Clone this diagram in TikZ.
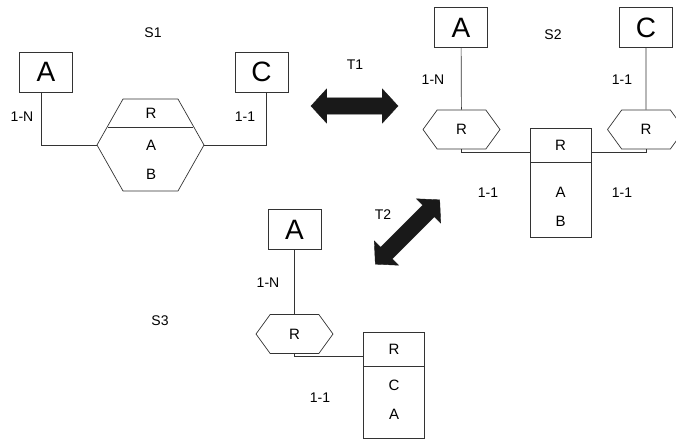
\documentclass[tikz,border=0pt]{standalone}
\usepackage{fontspec}
\setmainfont{Liberation Sans}
\usetikzlibrary{shapes.symbols,shapes.arrows,calc}

\begin{document}
\begin{tikzpicture}[x=1pt, y=-1pt,
    entite/.style={draw=black!80, line width=0.7pt, rectangle, minimum width=53pt, minimum height=40pt, inner sep=0pt, font=\fontsize{28}{28}\selectfont},
    boite/.style={draw=black!80, line width=0.7pt, rectangle, minimum width=61pt, inner sep=0pt, font=\fontsize{15}{15}\selectfont},
    relation/.style={draw=black!80, line width=0.7pt, shape=signal, signal to=east and west, signal pointer angle=108, minimum width=77pt, minimum height=39pt, inner sep=0pt, font=\fontsize{15}{15}\selectfont},
    fleche/.style={fill=black!90, draw=black!90, shape=double arrow, double arrow head extend=9pt, double arrow tip angle=95, inner xsep=0pt, inner ysep=8pt, minimum width=34pt},
    etiq/.style={font=\fontsize{14}{14}\selectfont},
    texte/.style={font=\fontsize{15}{15}\selectfont},
    lien/.style={draw=black!80, line width=0.7pt}]
        \useasboundingbox (0,0) rectangle (676,440);

        % S1
        \node[etiq] (S1) at (153, 33) {S1};
        \node[entite] (A1) at (46, 72) {A};
        \node[entite] (C1) at (261.5, 72) {C};
        \node[draw=black!80, line width=0.7pt, shape=signal, signal to=east and west, signal pointer angle=121, minimum width=107pt, minimum height=92pt, inner sep=0pt] (H1) at (150.5, 145) {};
        \draw[lien] ($(H1.center)+(-42.5,-18)$) to ($(H1.center)+(42.5,-18)$);
        \node[texte] (H1r) at (151, 113) {R};
        \node[texte] (H1a) at (151, 145) {A};
        \node[texte] (H1b) at (151, 174) {B};
        \draw[lien] ([xshift=-5pt]A1.south) |- (H1.west);
        \draw[lien] ([xshift=5pt]C1.south) |- (H1.east);
        \node[etiq] (c11) at (22, 117) {1-N};
        \node[etiq] (c12) at (245, 117) {1-1};

        % T1
        \node[etiq] (T1) at (355, 65) {T1};
        \node[fleche, minimum height=87pt] (F1) at (354.5, 106) {};

        % S2
        \node[etiq] (S2) at (553, 35) {S2};
        \node[entite] (A2) at (461, 27.5) {A};
        \node[entite] (C2) at (646, 27.5) {C};
        \node[relation] (R2a) at (461.5, 129.5) {R};
        \node[relation] (R2c) at (646, 129.5) {R};
        \node[boite, minimum height=34pt] (E2r) at (560.5, 145) {R};
        \node[boite, minimum height=75pt, anchor=north] (E2b) at (E2r.south) {};
        \node[texte] (E2a) at (560.5, 192) {A};
        \node[texte] (E2bb) at (560.5, 221) {B};
        \draw[lien] (A2) to (R2a);
        \draw[lien] (C2) to (R2c);
        \draw[lien] (R2a.south) |- ([yshift=10pt]E2b.north west);
        \draw[lien] (R2c.south) |- ([yshift=10pt]E2b.north east);
        \node[etiq] (c21) at (433, 80) {1-N};
        \node[etiq] (c22) at (622, 80) {1-1};
        \node[etiq] (c23) at (488, 193) {1-1};
        \node[etiq] (c24) at (622, 193) {1-1};

        % T2
        \node[etiq] (T2) at (383, 215) {T2};
        \node[fleche, minimum height=91pt, rotate=45] (F2) at (407.5, 232) {};

        % S3
        \node[etiq] (S3) at (160, 321) {S3};
        \node[entite] (A3) at (294.5, 229.5) {A};
        \node[relation] (R3) at (294.5, 334) {R};
        \node[boite, minimum height=34pt] (E3r) at (394, 349) {R};
        \node[boite, minimum height=72pt, anchor=north] (E3b) at (E3r.south) {};
        \node[texte] (E3c) at (394, 385) {C};
        \node[texte] (E3a) at (394, 414) {A};
        \draw[lien] (A3) to (R3);
        \draw[lien] (R3.south) |- ([yshift=10pt]E3b.north west);
        \node[etiq] (c31) at (268, 283) {1-N};
        \node[etiq] (c32) at (320, 398) {1-1};
    \end{tikzpicture}
\end{document}
